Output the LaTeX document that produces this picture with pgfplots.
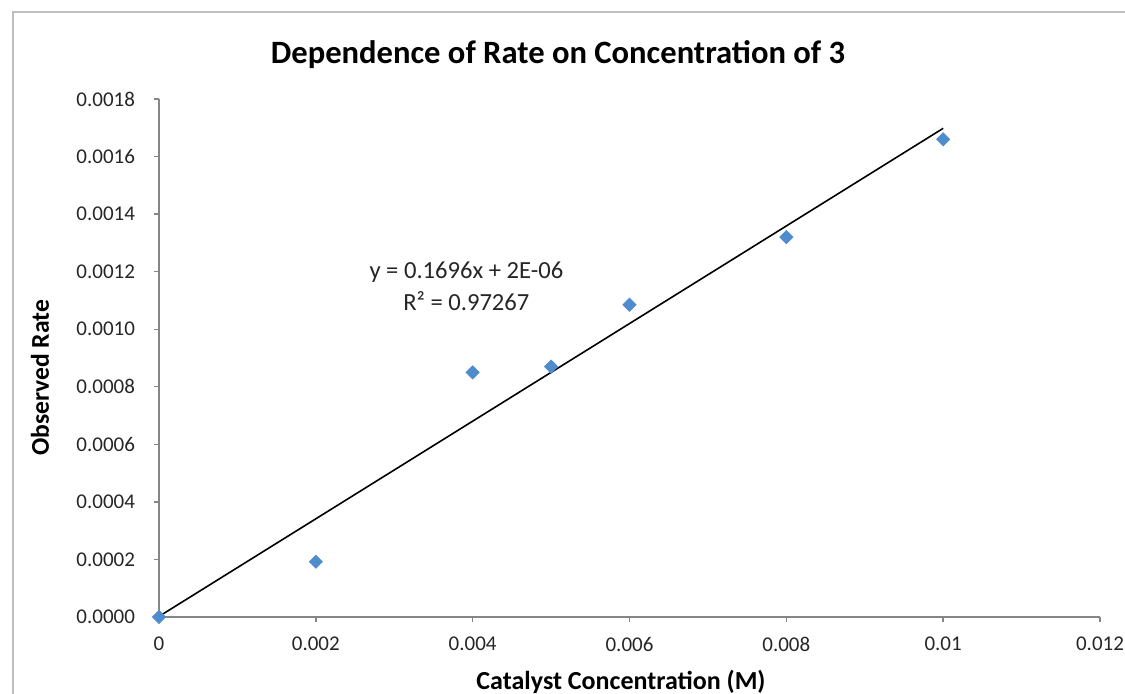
\documentclass[border=0pt]{standalone}
\usepackage{pgfplots}
\pgfplotsset{compat=1.18}
\usepackage{fontspec}
\setmainfont{Carlito}
\definecolor{ptblue}{RGB}{79,140,205}
\definecolor{axgray}{RGB}{134,134,134}
\definecolor{framegray}{RGB}{190,190,190}
\begin{document}
\begin{tikzpicture}[x=1pt,y=1pt]
\useasboundingbox (0,0) rectangle (562.5,347);
\draw[framegray, line width=1pt] (6.5,-2) -- (6.5,341) -- (566,341);
\begin{axis}[
  at={(79.5pt,38.5pt)}, anchor=south west,
  scale only axis, width=470.5pt, height=259pt,
  xmin=0, xmax=0.012, ymin=0, ymax=0.0018,
  axis lines*=left,
  axis line style={axgray, line width=0.7pt},
  tick align=outside, major tick length=2.5pt,
  tick style={axgray, line width=0.7pt},
  xtick={0,0.002,0.004,0.006,0.008,0.01,0.012},
  ytick={0,0.0002,0.0004,0.0006,0.0008,0.001,0.0012,0.0014,0.0016,0.0018},
  scaled x ticks=false, scaled y ticks=false,
  /pgf/number format/assume math mode=true,
  yticklabel style={/pgf/number format/.cd, fixed, fixed zerofill, precision=4, /tikz/.cd, xshift=-6pt},
  xticklabel style={/pgf/number format/.cd, fixed, precision=3, /tikz/.cd, yshift=-4pt},
  ticklabel style={font=\fontsize{10.5}{12}\selectfont, text=black!85},
  clip=false,
]
\addplot[only marks, mark=square*, mark size=2.3pt,
  mark options={rotate=45, fill=ptblue, draw=ptblue}]
  coordinates {(0,0) (0.002,0.000192) (0.004,0.000850) (0.005,0.000870)
               (0.006,0.001085) (0.008,0.001320) (0.01,0.001660)};
\addplot[black, line width=0.8pt] coordinates {(0,0.000002) (0.01,0.001698)};
\node[align=center, font=\fontsize{12.3}{16}\selectfont, text=black!85]
  at (axis cs:0.00392,0.00115) {y = 0.1696x + 2E-06\\R² = 0.97267};
\end{axis}
\node[font=\bfseries\fontsize{16.3}{18}\selectfont] at (279,319.5) {Dependence of Rate on Concentration of 3};
\node[rotate=90, font=\bfseries\fontsize{12.8}{14}\selectfont] at (20,158) {Observed Rate};
\node[font=\bfseries\fontsize{13}{14}\selectfont] at (310.5,6) {Catalyst Concentration (M)};
\end{tikzpicture}
\end{document}
